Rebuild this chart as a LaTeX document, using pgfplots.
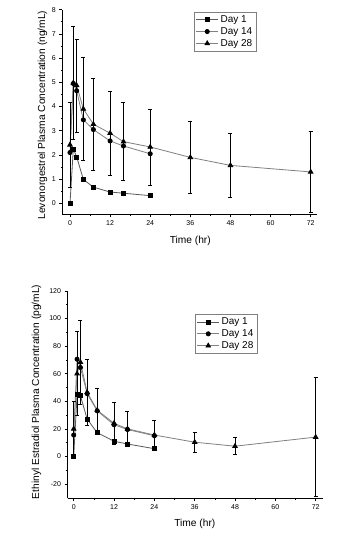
\documentclass[border=0pt]{standalone}
\usepackage{fontspec}
\setmainfont{Liberation Sans}
\usepackage{pgfplots}
\pgfplotsset{compat=1.18}
\definecolor{lnA}{gray}{0.35}
\definecolor{lnB}{gray}{0.5}
\pgfplotsset{
  pkstyle/.style={
    scale only axis,
    axis x line*=bottom,
    axis y line*=left,
    axis line style={-, line width=0.8pt, black},
    tick align=outside,
    major tick length=3pt,
    minor tick length=1.6pt,
    tick style={line width=0.6pt, black},
    xtick={0,12,...,72},
    minor x tick num=1,
    minor y tick num=1,
    /pgf/number format/assume math mode=true,
    tick label style={font=\fontsize{7}{8}\selectfont},
    label style={font=\fontsize{10.2}{11}\selectfont},
    xlabel={Time (hr)},
    legend cell align=left,
    legend style={draw=black!50, line width=0.5pt, font=\fontsize{10}{11}\selectfont,
      inner sep=1.5pt, row sep=-0.5pt, anchor=north west},
    legend image code/.code={\draw[mark repeat=2,mark phase=2,#1] plot coordinates {(0pt,0pt)(11pt,0pt)(22pt,0pt)};},
    d1/.style={color=lnA, line width=0.8pt, mark=square*, mark size=2pt, mark options={fill=black, draw=black, solid}},
    d14/.style={color=lnB, line width=0.8pt, mark=*, mark size=2.1pt, mark options={fill=black, draw=black, solid}},
    d28/.style={color=lnB, line width=0.8pt, mark=triangle*, mark size=2.6pt, mark options={fill=black, draw=black, solid},
      error bars/.cd, y dir=both, y explicit, error bar style={black, line width=0.7pt},
      error mark options={black, line width=0.7pt, mark size=2pt, rotate=90}},
  }
}
\begin{document}
\begin{tikzpicture}
\path[use as bounding box, fill=white] (0pt,0pt) rectangle (362pt,540pt);
% ---------------- top: levonorgestrel ----------------
\begin{axis}[pkstyle,
  at={(62.3pt,325.7pt)}, anchor=south west,
  width=254.4pt, height=204.6pt,
  xmin=-2.3, xmax=73.8, ymin=-0.45, ymax=8,
  ytick={0,1,...,8},
  ylabel={Levonorgestrel Plasma Concentration (ng/mL)},
  ylabel style={at={(axis description cs:-0.078,0.485)}, anchor=center, rotate=0},
  xlabel style={at={(axis description cs:0.503,-0.13)}, anchor=center},
  legend style={at={(axis description cs:0.518,0.99)}},
]
\addplot[d1] coordinates {(0,0) (1,2.25) (2,1.92) (4,0.99) (7,0.67) (12,0.47) (16,0.42) (24,0.32)};
\addlegendentry{Day 1}
\addplot[d14] coordinates {(0,2.1) (1,4.95) (2,4.65) (4,3.45) (7,3.05) (12,2.58) (16,2.37) (24,2.05)};
\addlegendentry{Day 14}
\addplot[d28] coordinates {
  (0,2.42) +- (0,1.74)
  (1,4.98) +- (0,2.35)
  (2,4.87) +- (0,1.92)
  (4,3.9) +- (0,2.12)
  (7,3.27) +- (0,1.9)
  (12,2.9) +- (0,1.73)
  (16,2.55) +- (0,1.61)
  (24,2.33) +- (0,1.57)
  (36,1.9) +- (0,1.48)
  (48,1.57) +- (0,1.34)
  (72,1.3) +- (0,1.68)};
\addlegendentry{Day 28}
\end{axis}
% ---------------- bottom: ethinyl estradiol ----------------
\begin{axis}[pkstyle,
  at={(67.5pt,41.7pt)}, anchor=south west,
  width=255.2pt, height=207.3pt,
  xmin=-1.85, xmax=74.1, ymin=-30.4, ymax=120,
  ytick={-20,0,...,120},
  ylabel={Ethinyl Estradiol Plasma Concentration (pg/mL)},
  ylabel style={at={(axis description cs:-0.122,0.513)}, anchor=center},
  xlabel style={at={(axis description cs:0.499,-0.121)}, anchor=center},
  legend style={at={(axis description cs:0.5,0.889)}},
]
\addplot[d1] coordinates {(0,0) (1,45) (2,44) (4,27) (7,17.2) (12,11) (16,9) (24,5.6)};
\addlegendentry{Day 1}
\addplot[d14] coordinates {(0,15.5) (1,70.5) (2,64.5) (4,45.5) (7,33) (12,23) (16,19.5) (24,15)};
\addlegendentry{Day 14}
\addplot[d28] coordinates {
  (0,20) +- (0,20)
  (1,60) +- (0,30.5)
  (2,68.3) +- (0,30.2)
  (4,46.5) +- (0,24)
  (7,33.5) +- (0,16)
  (12,24) +- (0,15.5)
  (16,20) +- (0,12.5)
  (24,15.5) +- (0,11)
  (36,10.3) +- (0,7.3)
  (48,7.4) +- (0,6.2)
  (72,14) +- (0,43)};
\addlegendentry{Day 28}
\end{axis}
\end{tikzpicture}
\end{document}
